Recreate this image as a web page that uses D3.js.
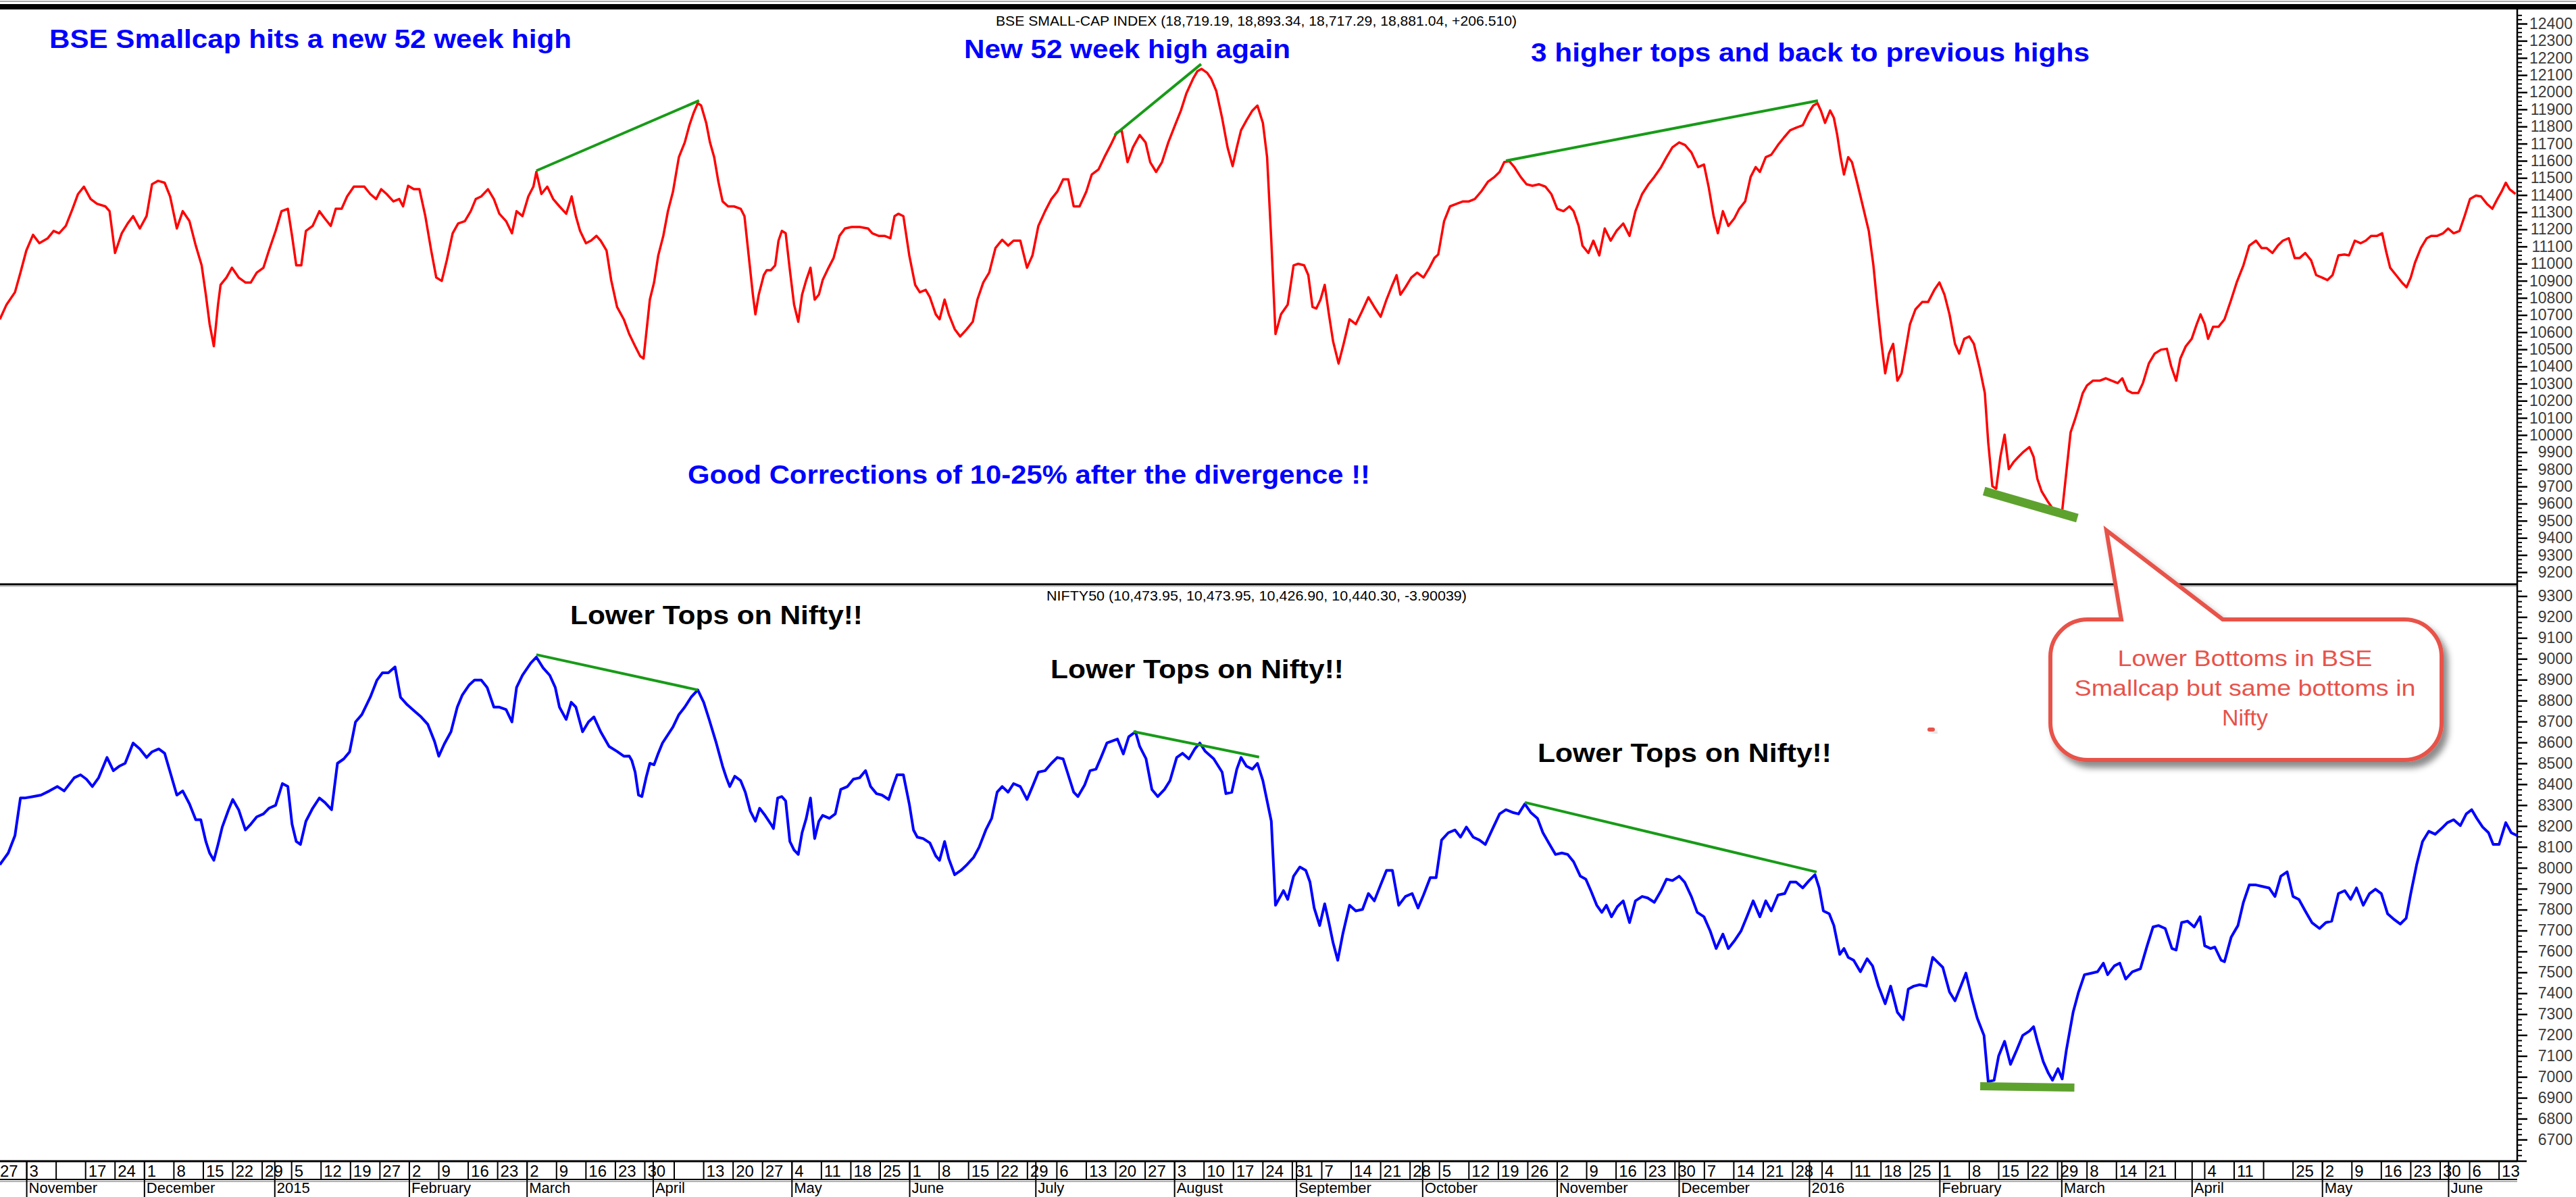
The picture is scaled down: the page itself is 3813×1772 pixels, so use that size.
<!DOCTYPE html>
<html>
<head>
<meta charset="utf-8">
<script src="https://cdn.jsdelivr.net/npm/d3@7"></script>
<style>
  body { margin: 0; background: #fff; }
  svg { display: block; }
  text { font-family: "Liberation Sans", Arial, sans-serif; }
</style>
</head>
<body>
<div id="chart"></div>
<script>
// first session on the chart, every point below is [days after it, close]
var startDay = "2014-10-27"
var endDay = "2016-06-17"

var bseSeries = [[0.6,10675],[2.2,10761],[4.2,10833],[5.5,10947],[6.9,11076],[8.5,11168],[10.0,11119],[12.0,11148],[13.4,11191],[14.7,11177],[16.3,11220],[17.9,11320],[19.2,11406],[20.6,11449],[22.2,11377],[23.7,11349],[25.7,11334],[26.7,11306],[28.0,11062],[29.6,11177],[31.0,11234],[32.3,11277],[33.9,11205],[35.5,11277],[36.8,11463],[38.2,11483],[39.8,11472],[41.1,11392],[42.7,11205],[44.1,11306],[45.7,11248],[47.2,11105],[48.6,10990],[49.6,10819],[50.5,10647],[51.5,10518],[52.5,10761],[53.1,10876],[54.5,10919],[55.8,10976],[57.4,10919],[59.0,10890],[60.3,10890],[61.7,10947],[63.3,10976],[64.6,11076],[66.2,11191],[67.6,11306],[69.1,11320],[70.1,11162],[71.1,10990],[72.3,10990],[73.4,11191],[75.0,11220],[76.6,11306],[77.9,11263],[79.3,11220],[80.5,11320],[81.9,11320],[83.2,11392],[84.8,11449],[86.2,11449],[87.3,11449],[88.7,11406],[90.1,11377],[91.3,11434],[92.6,11406],[94.2,11363],[95.6,11377],[96.5,11334],[97.7,11454],[99.1,11434],[100.4,11434],[101.8,11277],[103.2,11076],[104.4,10919],[105.7,10899],[106.9,11019],[108.3,11177],[109.6,11234],[111.2,11248],[112.6,11306],[113.8,11377],[115.1,11392],[116.7,11434],[118.1,11377],[119.4,11291],[121.0,11248],[122.4,11177],[123.5,11306],[124.9,11277],[126.3,11392],[127.5,11449],[128.2,11535],[129.4,11406],[130.8,11449],[132.2,11377],[133.7,11334],[135.3,11291],[136.6,11392],[137.6,11277],[138.6,11191],[140.0,11119],[141.2,11134],[142.5,11162],[143.5,11134],[144.9,11076],[146.0,10904],[147.4,10747],[149.0,10675],[150.3,10589],[151.7,10518],[152.9,10460],[153.7,10446],[154.7,10675],[155.2,10790],[156.2,10890],[157.2,11048],[158.4,11162],[159.5,11306],[160.7,11420],[162.1,11621],[163.5,11707],[164.6,11807],[165.6,11879],[166.6,11936],[167.4,11922],[168.6,11821],[169.5,11707],[170.5,11621],[171.5,11477],[172.5,11363],[173.8,11334],[175.2,11334],[176.8,11320],[177.7,11277],[178.7,11048],[179.7,10819],[180.3,10704],[181.1,10819],[182.3,10933],[183.0,10962],[184.0,10962],[185.0,10990],[185.8,11134],[186.6,11191],[187.5,11177],[188.5,10962],[189.5,10761],[190.5,10661],[191.4,10819],[192.4,10904],[193.4,10976],[194.4,10790],[195.4,10819],[196.3,10904],[197.7,10976],[198.9,11033],[200.3,11162],[201.6,11205],[203.2,11214],[205.1,11214],[207.1,11205],[208.1,11177],[209.6,11162],[211.0,11162],[212.4,11148],[213.4,11277],[214.3,11291],[215.5,11277],[216.9,11048],[218.3,10876],[219.4,10833],[220.8,10847],[221.8,10804],[223.2,10704],[224.1,10675],[225.3,10790],[226.3,10704],[227.7,10618],[229.0,10575],[230.6,10618],[232.0,10661],[233.1,10790],[234.5,10890],[235.9,10947],[237.4,11091],[239.0,11139],[240.4,11105],[241.7,11134],[243.3,11134],[244.9,10976],[246.2,11048],[247.6,11220],[249.2,11306],[250.7,11377],[252.1,11420],[253.5,11492],[254.7,11492],[256.0,11334],[257.4,11334],[259.0,11420],[260.3,11520],[261.9,11549],[263.3,11621],[264.8,11692],[266.2,11764],[267.4,11778],[268.8,11592],[270.1,11678],[271.7,11750],[273.1,11707],[274.2,11592],[275.6,11535],[277.0,11592],[278.5,11707],[280.1,11807],[281.5,11893],[282.8,11993],[284.4,12079],[285.4,12122],[286.4,12136],[287.7,12114],[288.7,12079],[289.9,12008],[291.3,11850],[292.6,11678],[293.8,11569],[294.8,11678],[295.8,11778],[297.1,11836],[298.5,11893],[299.7,11922],[301.0,11821],[302.0,11621],[303.0,11134],[304.0,10589],[305.3,10704],
  [306.9,10761],[308.3,10990],[309.4,10999],[310.8,10990],[311.8,10933],[312.8,10747],[313.7,10738],[314.7,10790],[315.7,10876],[316.7,10704],[317.7,10546],[319.0,10417],[320.2,10532],[321.6,10675],[323.1,10647],[324.5,10718],[326.1,10804],[327.5,10747],[329.0,10690],[330.4,10790],[331.8,10876],[332.8,10933],[333.7,10819],[334.9,10862],[336.3,10919],[337.7,10947],[339.2,10919],[340.6,10976],[341.8,11033],[342.7,11053],[344.1,11248],[345.5,11334],[347.1,11349],[348.6,11363],[350.0,11363],[351.4,11377],[352.9,11420],[354.5,11477],[356.1,11506],[357.3,11535],[358.4,11592],[359.6,11598],[360.8,11563],[362.3,11506],[363.7,11463],[365.1,11454],[366.7,11463],[368.2,11449],[369.6,11406],[371.0,11320],[372.5,11306],[373.9,11334],[374.9,11306],[376.1,11220],[377.0,11105],[378.4,11062],[379.6,11134],[381.0,11048],[382.3,11205],[383.7,11134],[385.1,11191],[386.7,11234],[388.2,11162],[389.6,11306],[391.2,11406],[392.7,11463],[394.1,11506],[395.7,11563],[397.0,11621],[398.4,11678],[400.0,11707],[401.4,11692],[402.9,11649],[404.5,11563],[405.9,11578],[407.0,11449],[408.2,11277],[409.2,11177],[410.4,11306],[411.7,11220],[413.1,11263],[414.3,11320],[415.7,11363],[417.0,11506],[418.2,11563],[419.2,11535],[420.6,11621],[421.9,11635],[423.5,11692],[424.9,11735],[426.4,11778],[427.8,11793],[429.4,11807],[430.8,11879],[431.9,11922],[432.9,11936],[433.7,11893],[434.7,11821],[435.9,11893],[436.8,11850],[437.6,11750],[438.4,11621],[439.2,11520],[440.2,11621],[441.1,11592],[442.3,11477],[443.7,11334],[445.1,11191],[446.2,10990],[447.0,10790],[448.0,10561],[449.0,10360],[449.9,10475],[450.9,10532],[451.9,10317],[452.9,10360],[453.9,10503],[454.9,10647],[456.2,10733],[457.8,10776],[459.2,10776],[460.7,10847],[461.9,10890],[463.1,10819],[464.3,10704],[465.6,10532],[466.6,10475],[467.8,10561],[469.0,10575],[470.1,10532],[471.5,10389],[472.7,10245],[473.5,9959],[474.5,9701],[475.4,9687],[476.4,9873],[477.4,10002],[478.4,9801],[479.6,9844],[480.7,9873],[481.9,9902],[483.3,9930],[484.3,9873],[485.2,9744],[486.2,9672],[487.6,9615],[488.8,9572],[490.1,9558],[491.1,9558],[492.1,9787],[493.1,10016],[494.1,10088],[495.0,10160],[496.0,10245],[497.0,10289],[498.4,10317],[500.0,10317],[501.5,10331],[502.9,10317],[504.3,10303],[505.4,10331],[506.6,10260],[507.8,10245],[509.2,10245],[510.3,10303],[511.7,10417],[513.1,10475],[514.6,10498],[516.0,10503],[517.0,10403],[518.2,10317],[519.2,10446],[520.5,10518],[521.9,10561],[523.1,10647],[524.0,10704],[525.0,10647],[525.8,10561],[527.0,10632],[528.3,10632],[529.7,10675],[531.3,10790],[532.6,10890],[534.2,10990],[535.6,11105],[537.2,11134],[538.5,11091],[539.7,11091],[541.1,11062],[542.4,11105],[543.6,11134],[545.0,11148],[546.4,11033],[547.6,11033],[548.9,11062],[550.3,11019],[551.5,10933],[552.9,10919],[554.2,10904],[555.4,10933],[556.8,11048],[558.2,11053],[559.3,11048],[560.7,11134],[562.1,11119],[563.3,11134],[564.6,11162],[566.0,11162],[567.2,11177],[568.1,11076],[569.1,10976],[570.5,10933],[571.9,10890],[573.0,10862],[574.0,10919],[575.0,11005],[576.4,11091],[577.8,11148],[578.9,11162],[580.3,11162],[581.7,11177],[582.9,11205],[584.2,11177],[585.6,11191],[586.8,11277],[588.1,11377],[589.5,11397],[590.7,11392],[592.1,11349],[593.4,11320],[594.6,11377],[595.6,11420],[596.6,11472],[597.5,11434],[598.9,11406]]

var niftySeries = [[0.6,8015],[2.6,8071],[4.2,8154],[5.5,8334],[6.5,8334],[8.5,8341],[10.4,8348],[12.4,8368],[14.3,8389],[15.9,8368],[18.3,8431],[19.8,8445],[21.2,8424],[22.6,8389],[24.1,8431],[26.1,8528],[27.6,8465],[29.0,8486],[30.4,8500],[32.3,8597],[33.9,8569],[35.5,8528],[36.8,8555],[38.4,8569],[39.8,8548],[41.3,8445],[42.7,8348],[44.1,8368],[45.7,8306],[47.2,8230],[48.4,8230],[49.6,8126],[50.5,8071],[51.5,8036],[52.5,8112],[53.5,8195],[55.0,8278],[56.0,8327],[57.4,8278],[59.0,8181],[60.3,8209],[61.7,8244],[63.3,8258],[64.6,8285],[66.2,8299],[67.8,8403],[69.1,8389],[70.1,8209],[71.1,8126],[72.1,8112],[73.4,8223],[75.0,8285],[76.6,8334],[77.9,8313],[79.5,8278],[80.9,8500],[82.4,8521],[83.8,8555],[85.2,8698],[86.7,8733],[88.7,8816],[90.3,8898],[91.6,8933],[93.0,8933],[94.6,8961],[95.9,8816],[97.5,8780],[99.5,8745],[100.8,8722],[102.4,8686],[104.0,8604],[105.0,8534],[106.3,8592],[107.9,8651],[109.4,8769],[110.6,8827],[112.2,8874],[113.5,8898],[115.1,8898],[116.5,8863],[118.1,8769],[119.4,8769],[121.0,8757],[122.4,8698],[123.5,8863],[124.9,8921],[126.9,8980],[128.2,9008],[129.8,8957],[131.4,8921],[132.7,8863],[133.7,8769],[135.3,8710],[136.5,8792],[137.6,8769],[139.2,8651],[140.6,8698],[141.9,8722],[143.5,8651],[145.5,8581],[147.4,8557],[149.0,8534],[150.3,8535],[150.9,8514],[151.7,8458],[152.5,8348],[153.3,8341],[154.3,8431],[155.2,8500],[156.2,8493],[157.2,8548],[158.2,8597],[160.7,8674],[162.1,8733],[163.5,8769],[165.0,8816],[166.6,8851],[168.0,8792],[169.3,8710],[170.9,8604],[172.5,8486],[173.4,8431],[174.2,8389],[175.4,8438],[176.8,8417],[177.9,8362],[179.1,8271],[180.3,8223],[181.3,8285],[182.6,8251],[184.0,8209],[184.6,8188],[185.6,8334],[186.6,8341],[187.5,8320],[188.5,8126],[189.5,8085],[190.5,8064],[191.4,8168],[192.4,8237],[193.4,8334],[194.4,8140],[195.4,8223],[196.3,8251],[197.9,8237],[199.3,8258],[200.6,8375],[202.2,8389],[203.6,8424],[205.1,8431],[206.5,8465],[207.7,8389],[209.1,8355],[210.4,8348],[212.0,8327],[213.0,8389],[214.0,8445],[215.5,8445],[216.9,8306],[217.9,8181],[218.8,8147],[220.2,8140],[221.8,8119],[223.2,8057],[224.1,8036],[225.3,8126],[226.3,8043],[227.7,7967],[229.2,7988],[230.6,8015],[232.2,8050],[233.5,8098],[235.1,8181],[236.5,8237],[237.8,8362],[239.0,8389],[240.4,8362],[241.7,8403],[243.3,8389],[244.9,8327],[246.2,8389],[247.6,8458],[249.2,8465],[250.7,8500],[252.1,8528],[253.5,8521],[254.7,8445],[256.0,8362],[257.0,8341],[258.6,8396],[259.9,8465],[261.3,8472],[262.5,8528],[263.9,8597],[266.4,8616],[267.8,8545],[269.1,8627],[270.7,8651],[271.7,8581],[273.2,8522],[274.6,8375],[276.0,8341],[277.6,8375],[278.9,8417],[280.5,8528],[281.9,8548],[283.4,8521],[284.8,8569],[286.0,8597],[287.3,8557],[289.3,8522],[291.3,8458],[292.2,8355],[293.6,8362],[294.8,8472],[295.8,8528],[297.1,8486],[298.5,8472],[299.7,8500],[301.0,8417],[302.0,8320],[303.0,8223],[304.0,7821],
  [305.9,7891],[306.9,7849],[308.3,7960],[309.8,8004],[311.2,7988],[312.2,7932],[313.2,7808],[314.5,7724],[315.7,7828],[316.7,7738],[317.7,7641],[318.8,7558],[320.0,7683],[321.6,7821],[323.1,7794],[324.7,7801],[326.1,7877],[327.5,7842],[329.0,7918],[330.4,7988],[331.8,7988],[333.3,7821],[334.9,7863],[336.5,7877],[337.9,7808],[339.2,7870],[340.8,7953],[342.2,7953],[343.5,8133],[345.1,8168],[346.7,8181],[348.0,8147],[349.4,8195],[351.0,8147],[352.5,8133],[353.9,8112],[355.5,8181],[357.3,8258],[358.8,8278],[360.4,8265],[361.8,8258],[363.3,8306],[364.7,8265],[366.3,8237],[367.6,8168],[369.0,8119],[370.6,8064],[372.1,8071],[373.5,8064],[374.9,8029],[376.5,7960],[377.8,7946],[379.0,7891],[380.4,7821],[381.6,7787],[382.7,7821],[383.9,7766],[385.3,7814],[386.7,7842],[388.2,7738],[389.6,7842],[391.2,7863],[392.5,7856],[394.1,7835],[395.7,7891],[397.0,7946],[398.4,7939],[400.0,7960],[401.3,7932],[402.9,7863],[404.3,7787],[405.9,7766],[407.4,7697],[408.8,7614],[410.4,7683],[411.7,7614],[413.3,7655],[414.7,7697],[416.1,7766],[417.6,7842],[419.2,7766],[420.6,7842],[421.9,7794],[423.5,7870],[425.1,7877],[426.4,7932],[427.8,7932],[429.4,7904],[430.9,7939],[432.3,7967],[433.3,7904],[434.3,7794],[435.7,7780],[436.8,7724],[438.2,7586],[439.2,7614],[440.2,7572],[441.5,7558],[443.1,7503],[444.7,7565],[446.0,7531],[447.4,7434],[449.0,7350],[450.3,7434],[451.9,7309],[453.3,7274],[454.5,7420],[455.8,7434],[457.2,7441],[458.8,7434],[460.3,7572],[461.7,7544],[462.7,7524],[464.3,7406],[465.6,7364],[467.0,7434],[468.2,7496],[469.6,7378],[470.9,7281],[472.5,7198],[473.5,6977],[474.9,6984],[476.0,7101],[477.4,7170],[478.8,7060],[480.3,7129],[481.7,7198],[483.3,7219],[484.3,7240],[485.2,7170],[486.6,7073],[487.8,7018],[488.8,6984],[490.1,7039],[491.1,6990],[492.1,7129],[493.7,7309],[495.0,7406],[496.4,7489],[498.0,7496],[499.5,7503],[500.9,7544],[501.9,7489],[503.5,7531],[504.8,7544],[506.2,7468],[507.8,7503],[509.7,7517],[511.3,7627],[512.7,7717],[514.0,7724],[515.6,7710],[517.2,7614],[518.2,7607],[519.5,7738],[520.9,7745],[522.5,7717],[523.9,7766],[525.0,7627],[526.4,7614],[527.4,7621],[528.9,7558],[529.7,7551],[531.3,7669],[532.9,7724],[534.2,7835],[535.6,7918],[537.2,7918],[538.7,7911],[540.3,7904],[541.7,7863],[543.1,7960],[544.6,7981],[546.0,7863],[547.4,7849],[548.9,7794],[550.5,7738],[552.3,7710],[553.8,7738],[555.2,7745],[556.8,7877],[558.3,7891],[559.7,7849],[561.1,7904],[562.7,7821],[564.2,7877],[565.6,7898],[567.0,7877],[568.5,7780],[570.1,7752],[571.5,7731],[572.9,7759],[574.0,7877],[575.4,8015],[576.8,8126],[578.3,8175],[579.8,8161],[581.3,8188],[582.7,8216],[584.2,8230],[585.8,8202],[587.2,8258],[588.5,8278],[589.7,8237],[591.1,8195],[592.5,8168],[593.6,8112],[595.0,8112],[596.6,8216],[597.9,8168],[599.3,8154]]

// green divergence lines drawn on the chart: [[day, value], [day, value]]
var bseTrends = [[[128.2,11542],[166.9,11951]], [[265.7,11750],[286.3,12164]], [[358.8,11600],[433.0,11951]]]
var niftyTrends = [[[128.2,9020],[166.6,8851]], [[270.2,8652],[300.1,8530]], [[363.3,8313],[432.7,7980]]]
var bseBottom = [[472.5,9673],[494.7,9515]]
var niftyBottom = [[471.6,6955],[494.0,6949]]

// week labels under the chart (first session of each week, blanks where the chart leaves one out)
var weekLabels = ["27","3","","17","24","1","8","15","22","29",
  "5","12","19","27","2","9","16","23","2","9","16","23","30","","13","20","27","4","11","18","25",
  "1","8","15","22","29","6","13","20","27","3","10","17","24","31","7","14","21","28",
  "5","12","19","26","2","9","16","23","30","7","14","21","28",
  "4","11","18","25","1","8","15","22","29","8","14","21","","4","11","","25","2","9","16","23","30","6","13"]
var monthStarts = ["2014-11-03","2014-12-01","2015-01-01","2015-02-02","2015-03-02","2015-04-01","2015-05-04","2015-06-01","2015-07-01","2015-08-03","2015-09-01","2015-10-01","2015-11-02","2015-12-01","2016-01-01","2016-02-01","2016-03-01","2016-04-01","2016-05-02","2016-06-01"]
var monthLabels = ["November","December","2015","February","March","April","May","June","July","August","September","October","November","December","2016","February","March","April","May","June"]

var width = 3813, height = 1772
var plotRight = 3726
var panelTop = 14, divider = 865, axisTop = 1719, monthRow = 1746

var parseDay = d3.timeParse("%Y-%m-%d")
var start = parseDay(startDay)
function dayToDate(n) { return new Date(start.getTime() + n * 864e5) }

var x = d3.scaleTime().domain([start, parseDay(endDay)]).range([-4, 3724])
var yTop = d3.scaleLinear().domain([9200, 12400]).range([847, 35])
var yBot = d3.scaleLinear().domain([6700, 8500]).range([1687, 1130])

var svg = d3.select("#chart").append("svg")
  .attr("width", width)
  .attr("height", height)

var defs = svg.append("defs")
defs.append("filter").attr("id", "shadow")
  .attr("x", "-20%").attr("y", "-20%").attr("width", "150%").attr("height", "160%")
  .append("feDropShadow")
  .attr("dx", 7).attr("dy", 9).attr("stdDeviation", 5)
  .attr("flood-color", "#000").attr("flood-opacity", 0.45)

// frame
svg.append("rect").attr("x", 0).attr("y", 6).attr("width", width).attr("height", 8).attr("fill", "#000")
svg.append("line").attr("x1", 0).attr("x2", width).attr("y1", 2).attr("y2", 2).attr("stroke", "#888").attr("stroke-width", 1.5)
svg.append("line").attr("x1", 0).attr("x2", plotRight).attr("y1", divider).attr("y2", divider)
  .attr("stroke", "#000").attr("stroke-width", 3)
svg.append("line").attr("x1", 0).attr("x2", plotRight).attr("y1", divider + 3).attr("y2", divider + 3)
  .attr("stroke", "#999").attr("stroke-width", 1)
svg.append("line").attr("x1", plotRight).attr("x2", plotRight).attr("y1", panelTop).attr("y2", axisTop)
  .attr("stroke", "#000").attr("stroke-width", 2.5)
svg.append("line").attr("x1", plotRight).attr("x2", plotRight + 14).attr("y1", axisTop).attr("y2", axisTop)
  .attr("stroke", "#000").attr("stroke-width", 2.5)

// right hand price scales
function priceAxis(scale, lo, hi, top, bottom) {
  var minor = d3.range(lo - 100, hi + 101, 25).filter(function(v) {
    return v % 100 != 0 && scale(v) > top + 2 && scale(v) < bottom - 2
  })
  var gm = svg.append("g").attr("transform", "translate(" + plotRight + ",0)")
    .call(d3.axisRight(scale).tickValues(minor).tickSize(7).tickFormat(""))
  gm.select(".domain").remove()
  gm.selectAll(".tick line").attr("stroke", "#000").attr("stroke-width", 2)

  var g = svg.append("g").attr("transform", "translate(" + plotRight + ",0)")
    .call(d3.axisRight(scale).tickValues(d3.range(lo, hi + 1, 100)).tickSize(15).tickFormat(d3.format("d")))
  g.select(".domain").remove()
  g.selectAll(".tick line").attr("stroke", "#000").attr("stroke-width", 2.5)
  g.selectAll(".tick text")
    .attr("x", 82)
    .attr("text-anchor", "end")
    .attr("fill", "#3a3a3a")
    .style("font-size", "23px")
}
priceAxis(yTop, 9200, 12400, panelTop, divider)
priceAxis(yBot, 6700, 9300, divider, axisTop)

// date axis
var dateAxis = svg.append("g")
dateAxis.append("line").attr("x1", 0).attr("x2", plotRight).attr("y1", axisTop).attr("y2", axisTop)
  .attr("stroke", "#000").attr("stroke-width", 3)
dateAxis.append("line").attr("x1", 0).attr("x2", plotRight).attr("y1", monthRow).attr("y2", monthRow)
  .attr("stroke", "#000").attr("stroke-width", 2)
dateAxis.append("line").attr("x1", 0).attr("x2", plotRight).attr("y1", monthRow + 3).attr("y2", monthRow + 3)
  .attr("stroke", "#999").attr("stroke-width", 1.5)

var mondays = d3.timeMonday.range(start, d3.timeDay.offset(parseDay(endDay), -3))
var weeks = dateAxis.selectAll(".week").data(mondays).enter().append("g").attr("class", "week")
weeks.append("line")
  .attr("x1", function(d) { return x(d) }).attr("x2", function(d) { return x(d) })
  .attr("y1", axisTop).attr("y2", monthRow)
  .attr("stroke", "#000").attr("stroke-width", 2)
weeks.append("text")
  .attr("x", function(d) { return x(d) + 4 })
  .attr("y", axisTop + 23)
  .style("font-size", "24px")
  .text(function(d, i) { return weekLabels[i] })

var months = dateAxis.selectAll(".month").data(monthStarts).enter().append("g").attr("class", "month")
months.append("line")
  .attr("x1", function(d) { return x(parseDay(d)) }).attr("x2", function(d) { return x(parseDay(d)) })
  .attr("y1", axisTop).attr("y2", height)
  .attr("stroke", "#000").attr("stroke-width", 2)
months.append("text")
  .attr("x", function(d) { return x(parseDay(d)) + 3 })
  .attr("y", height - 6)
  .style("font-size", "22px")
  .text(function(d, i) { return monthLabels[i] })

// price lines
function drawLine(points, yScale, color, w) {
  var line = d3.line()
    .x(function(d) { return x(dayToDate(d[0])) })
    .y(function(d) { return yScale(d[1]) })
  svg.append("path").datum(points)
    .attr("d", line)
    .attr("fill", "none")
    .attr("stroke", color)
    .attr("stroke-width", w)
    .attr("stroke-linejoin", "round")
}
drawLine(bseSeries, yTop, "#ff0000", 3.5)
drawLine(niftySeries, yBot, "#0000ff", 4)

// green trend lines
function trend(seg, yScale, color, w) {
  svg.append("line")
    .attr("x1", x(dayToDate(seg[0][0]))).attr("y1", yScale(seg[0][1]))
    .attr("x2", x(dayToDate(seg[1][0]))).attr("y2", yScale(seg[1][1]))
    .attr("stroke", color).attr("stroke-width", w)
}
bseTrends.forEach(function(s) { trend(s, yTop, "#179b17", 4) })
niftyTrends.forEach(function(s) { trend(s, yBot, "#179b17", 4) })
trend(bseBottom, yTop, "#5ea22e", 13)
trend(niftyBottom, yBot, "#5ea22e", 12)

// headers
function label(txt, px, py, len, size, color, bold) {
  svg.append("text")
    .attr("x", px).attr("y", py)
    .attr("textLength", len).attr("lengthAdjust", "spacingAndGlyphs")
    .attr("fill", color)
    .style("font-size", size + "px")
    .style("font-weight", bold ? "bold" : "normal")
    .text(txt)
}
label("BSE SMALL-CAP INDEX (18,719.19, 18,893.34, 18,717.29, 18,881.04, +206.510)", 1474, 38, 771, 21, "#000", false)
label("NIFTY50 (10,473.95, 10,473.95, 10,426.90, 10,440.30, -3.90039)", 1549, 889, 622, 21, "#000", false)

// commentary
label("BSE Smallcap hits a new 52 week high", 73, 71, 773, 38, "#0000ff", true)
label("New 52 week high again", 1427, 86, 483, 39, "#0000ff", true)
label("3 higher tops and back to previous highs", 2266, 91, 827, 39, "#0000ff", true)
label("Good Corrections of 10-25% after the divergence !!", 1018, 716, 1010, 39, "#0000ff", true)
label("Lower Tops on Nifty!!", 844, 924, 433, 38, "#000", true)
label("Lower Tops on Nifty!!", 1555, 1004, 434, 38, "#000", true)
label("Lower Tops on Nifty!!", 2276, 1128, 435, 38, "#000", true)

// callout
var tipX = x(dayToDate(501.6)), tipY = yTop(9444)
var L = 3035, R = 3614, T = 917, B = 1125, r = 55
var callout = "M" + (L + r) + "," + T +
  "L3140," + T + "L" + tipX + "," + tipY + "L3290," + T +
  "L" + (R - r) + "," + T + "A" + r + "," + r + " 0 0 1 " + R + "," + (T + r) +
  "L" + R + "," + (B - r) + "A" + r + "," + r + " 0 0 1 " + (R - r) + "," + B +
  "L" + (L + r) + "," + B + "A" + r + "," + r + " 0 0 1 " + L + "," + (B - r) +
  "L" + L + "," + (T + r) + "A" + r + "," + r + " 0 0 1 " + (L + r) + "," + T + "Z"
svg.append("path").attr("d", callout)
  .attr("fill", "#fff").attr("stroke", "#e8524a").attr("stroke-width", 6)
  .attr("stroke-linejoin", "miter")
  .attr("filter", "url(#shadow)")
var calloutLines = ["Lower Bottoms in BSE", "Smallcap but same bottoms in", "Nifty"]
var calloutWidths = [377, 505, 68]
calloutLines.forEach(function(t, i) {
  svg.append("text")
    .attr("x", 3323).attr("y", 986 + i * 44)
    .attr("text-anchor", "middle")
    .attr("textLength", calloutWidths[i]).attr("lengthAdjust", "spacingAndGlyphs")
    .attr("fill", "#e8524a")
    .style("font-size", "34px")
    .text(t)
})
svg.append("rect").attr("x", 2853).attr("y", 1077).attr("width", 11).attr("height", 6).attr("rx", 3)
  .attr("fill", "#e8524a").attr("filter", "url(#shadow)")
</script>
</body>
</html>
